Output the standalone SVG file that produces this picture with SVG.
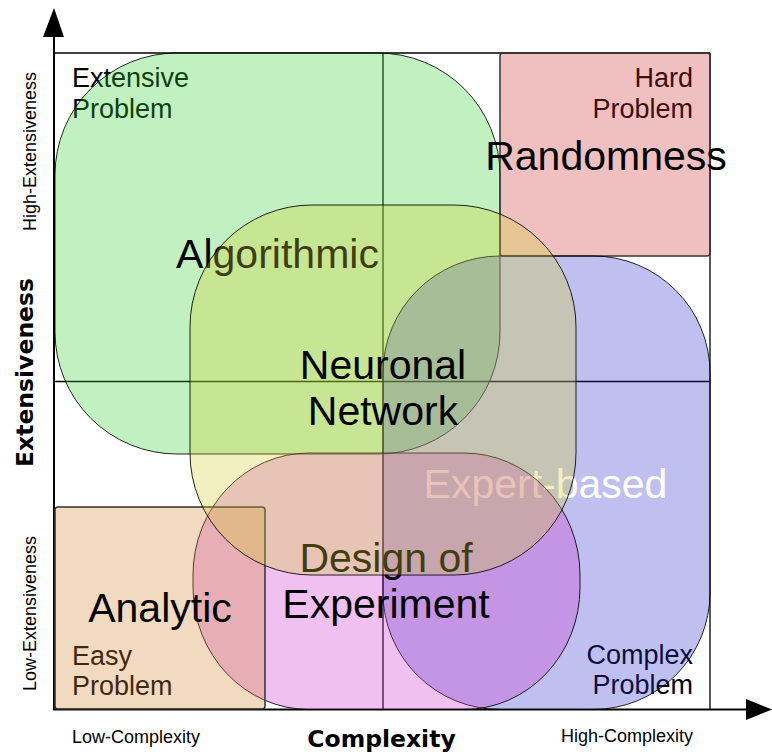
<svg xmlns="http://www.w3.org/2000/svg" width="772" height="755" viewBox="0 0 772 755">
<style>
.t{font-family:"Liberation Sans",Arial,sans-serif;fill:#000}
.big{font-size:41px}
.mid{font-size:27px}
.small{font-size:18px}
.bold{font-family:"DejaVu Sans",sans-serif;font-weight:bold;font-size:23.5px;fill:#000}
.shape{stroke:#000;stroke-width:1;stroke-opacity:0.85}
.box{stroke:#333;stroke-width:1.5}
.line{stroke:#000;stroke-width:1.3;fill:none}
.axis{stroke:#000;stroke-width:2;fill:none}
</style>
<rect width="772" height="755" fill="#fff"/>
<g id="connectors">
  <line class="line" x1="54" y1="53" x2="710" y2="53"/>
  <line class="line" x1="710" y1="53" x2="710" y2="709"/>
  <line class="line" x1="383" y1="53" x2="383" y2="709"/>
  <line class="line" x1="54" y1="381.5" x2="710" y2="381.5"/>
  <line class="axis" x1="54" y1="36" x2="54" y2="710"/>
  <line class="axis" x1="53" y1="709.5" x2="747" y2="709.5"/>
  <polygon points="54,8 43,37 64,37" fill="#000"/>
  <polygon points="772,709.5 746,699 746,720" fill="#000"/>
</g>
<g id="labels-under">
  <text class="t mid" x="72" y="87">Extensive</text>
  <text class="t mid" x="72" y="118">Problem</text>
  <text class="t mid" x="693" y="87" text-anchor="end">Hard</text>
  <text class="t mid" x="693" y="118" text-anchor="end">Problem</text>
  <text class="t mid" x="693" y="664" text-anchor="end">Complex</text>
  <text class="t mid" x="693" y="694" text-anchor="end">Problem</text>
  <text class="t mid" x="72" y="665">Easy</text>
  <text class="t mid" x="72" y="695">Problem</text>
</g>
<g id="extensive">
  <rect class="shape" x="55" y="53" width="445" height="401" rx="122" ry="122" fill="#32d232" fill-opacity="0.3"/>
</g>
<g id="hard">
  <rect class="box" x="500" y="53" width="210" height="203" rx="3" fill="#cd2d2d" fill-opacity="0.3"/>
</g>
<g id="complex">
  <rect class="shape" x="383" y="256" width="327" height="453.5" rx="117" ry="117" fill="#2d2dcd" fill-opacity="0.3"/>
</g>
<g id="algorithmic-label">
  <text class="t big" x="277.5" y="268" text-anchor="middle">Algorithmic</text>
</g>
<g id="expert">
  <text class="t big" x="545.5" y="498" text-anchor="middle" style="fill:#fff">Expert-based</text>
</g>
<g id="doe">
  <rect class="shape" x="193" y="453" width="387" height="256.5" rx="116" ry="122" fill="#cd2dcd" fill-opacity="0.3"/>
  <text class="t big" x="386" y="572" text-anchor="middle">Design of</text>
  <text class="t big" x="386" y="618" text-anchor="middle">Experiment</text>
</g>
<g id="easy">
  <rect class="box" x="55" y="507" width="210" height="202" rx="3" fill="#d4842d" fill-opacity="0.3"/>
</g>
<g id="algorithmic">
  <rect class="shape" x="190" y="205" width="386" height="370" rx="122" ry="122" fill="#d4cd2d" fill-opacity="0.3"/>
</g>
<g id="labels-top">
  <text class="t big" x="383" y="379" text-anchor="middle">Neuronal</text>
  <text class="t big" x="383" y="425" text-anchor="middle">Network</text>
  <text class="t big" x="606" y="170" text-anchor="middle">Randomness</text>
  <text class="t big" x="160" y="622" text-anchor="middle">Analytic</text>
</g>
<g id="axis-labels">
  <text class="t small" x="72" y="743">Low-Complexity</text>
  <text class="t small" x="693" y="742" text-anchor="end">High-Complexity</text>
  <text class="bold" x="381.5" y="747" text-anchor="middle">Complexity</text>
  <text class="bold" transform="translate(33,372.5) rotate(-90)" text-anchor="middle">Extensiveness</text>
  <text class="t small" transform="translate(36,151.5) rotate(-90)" text-anchor="middle">High-Extensiveness</text>
  <text class="t small" transform="translate(36,613.5) rotate(-90)" text-anchor="middle">Low-Extensiveness</text>
</g>
</svg>
